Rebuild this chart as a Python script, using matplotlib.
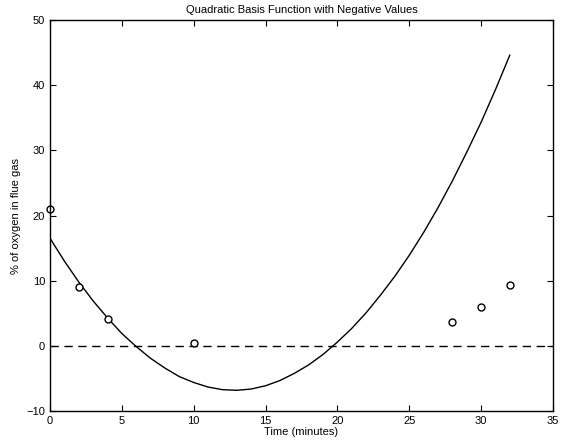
"""Quadratic basis function fit to flue gas oxygen readings"""

import matplotlib
matplotlib.use("Agg")
import matplotlib.pyplot as plt

plt.rcParams['font.family'] = ['Liberation Sans', 'DejaVu Sans']

# observed readings
obs_time = [0, 2, 4, 10, 28, 30, 32]
obs_oxygen = [21.0, 9.0, 4.2, 0.5, 3.7, 6.0, 9.3]

# fitted curve at each minute
fit_time = list(range(0, 33))
fit_oxygen = [16.5, 13.0, 9.8, 6.9, 4.3, 1.9, -0.1, -1.9, -3.4, -4.7,
              -5.6, -6.3, -6.7, -6.8, -6.6, -6.1, -5.3, -4.2, -2.9, -1.3,
              0.6, 2.7, 5.1, 7.8, 10.7, 13.9, 17.4, 21.2, 25.3, 29.7,
              34.3, 39.3, 44.6]

# zero reference line
ref_time = [0, 35]
ref_level = [0, 0]

fig = plt.figure(figsize=(5.63, 4.45), dpi=100)
ax = fig.add_axes([0.089, 0.076, 0.893, 0.879])

ax.plot(fit_time, fit_oxygen, color='black', linewidth=1.0)
ax.plot(ref_time, ref_level, color='black', linestyle=(0, (6, 4)), linewidth=1.0)
ax.plot(obs_time, obs_oxygen, linestyle='none', marker='o', markersize=5,
        markerfacecolor='white', markeredgecolor='black', markeredgewidth=1.0,
        clip_on=False)

ax.set_xlim(0, 35)
ax.set_ylim(-10, 50)
ax.set_xticks(range(0, 36, 5))
ax.set_yticks(range(-10, 51, 10))
ax.tick_params(direction='in', length=4, labelsize=8, top=True, right=True)
for spine in ax.spines.values():
    spine.set_linewidth(1.0)

ax.set_xlabel("Time (minutes)", fontsize=8, labelpad=1)
ax.set_ylabel("% of oxygen in flue gas", fontsize=8, labelpad=4)
ax.set_title("Quadratic Basis Function with Negative Values", fontsize=8, pad=5)

fig.savefig("out.png", dpi=100)
